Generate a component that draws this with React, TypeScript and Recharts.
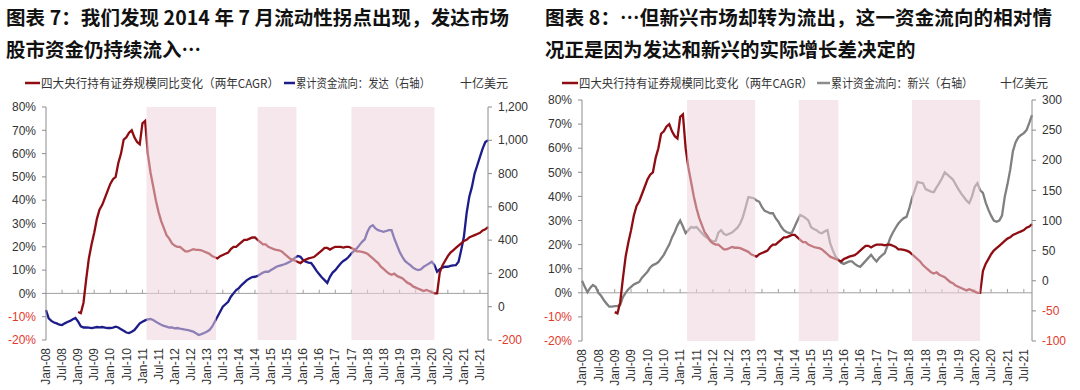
import React from 'react';
import { LineChart, Line, XAxis, YAxis, ReferenceArea, ReferenceLine } from 'recharts';

// ---------- data (monthly, Jan-08 .. Oct-21) ----------
const monthLabels = [
  'Jan-08', 'Jul-08', 'Jan-09', 'Jul-09', 'Jan-10', 'Jul-10', 'Jan-11', 'Jul-11',
  'Jan-12', 'Jul-12', 'Jan-13', 'Jul-13', 'Jan-14', 'Jul-14', 'Jan-15', 'Jul-15',
  'Jan-16', 'Jul-16', 'Jan-17', 'Jul-17', 'Jan-18', 'Jul-18', 'Jan-19', 'Jul-19',
  'Jan-20', 'Jul-20', 'Jan-21', 'Jul-21',
];

// 四大央行持有证券规模同比变化（两年CAGR）, %
const cagrPct: (number | null)[] = [
  null, null, null, null, null, null, null, null, null, null, null, null,
  -8, -8.5, -4, 6, 15, 21, 26, 32, 36, 38,
  41, 44, 47, 49, 50, 56, 60, 66, 67, 69,
  70, 67, 65, 64, 73, 74, 60, 52, 46, 40,
  35, 31, 28, 25, 23.5, 21.5, 20.5, 20, 20, 19,
  18, 18, 18.5, 19, 18.7, 18.7, 18.5, 18, 17.5, 17,
  16, 15.5, 15, 16, 16.5, 17, 17.5, 19, 20, 20,
  21, 22, 23, 23, 23.5, 24, 24, 23, 22, 21,
  21, 20, 19.5, 19, 18.7, 18.5, 18, 17, 16, 15,
  14.5, 14, 13.5, 13, 14, 14.5, 15, 15.3, 15.6, 16.5,
  17.5, 18.5, 19.5, 19.5, 18.8, 19.5, 20, 20, 20, 19.7,
  20, 20, 19.5, 19, 18, 18, 17.8, 17.5, 17, 16,
  15, 14, 13, 11.5, 10.5, 9.5, 8.5, 8, 8.5, 7.5,
  7, 6.5, 5.5, 4.5, 4, 3, 2.5, 2, 1.5, 1,
  1.5, 1, 0.5, 0, 0, 9, 12, 14, 16, 17.5,
  18.5, 19.5, 20.5, 21.5, 22.5, 23, 24, 24.5, 25, 25.5,
  26, 27, 27.5, 28.5,
];

// 累计资金流向：发达（右轴）, 十亿美元
const dmFlow: number[] = [
  -20, -70, -85, -95, -100, -108, -110, -100, -92, -85,
  -75, -68, -90, -118, -125, -124, -126, -128, -125, -122,
  -124, -122, -125, -128, -128, -125, -120, -125, -135, -145,
  -155, -158, -150, -140, -120, -100, -90, -82, -76, -74,
  -80, -90, -100, -108, -115, -120, -125, -125, -130, -128,
  -132, -135, -138, -140, -145, -150, -160, -170, -165, -158,
  -150, -140, -120, -90, -60, -30, 0, 15, 30, 60,
  80, 100, 112, 130, 145, 160, 170, 178, 180, 185,
  195, 205, 210, 210, 220, 230, 240, 245, 250, 255,
  262, 270, 280, 295, 305, 300, 280, 270, 265, 262,
  240, 215, 195, 175, 160, 143, 180, 205, 220, 240,
  260, 275, 285, 300, 320, 335, 350, 370, 390, 405,
  450, 480, 490, 470, 460, 455, 450, 455, 460, 460,
  410, 370, 330, 300, 275, 262, 250, 235, 225, 220,
  225, 240, 250, 260, 270, 250, 210, 225, 235, 240,
  240, 245, 248, 250, 270, 340, 420, 560, 660, 720,
  800, 850, 900, 950, 990, 1000,
];

// 累计资金流向：新兴（右轴）, 十亿美元
const emFlow: number[] = [
  0, -10, -19, -12, -7, -10, -20, -25, -32, -38,
  -43, -43, -42, -42, -40, -27, -20, -14, -10, -6,
  -4, -2, 5, 10, 15, 22, 26, 28, 31, 37,
  43, 52, 60, 72, 81, 92, 100, 90, 79, 84,
  89, 88, 89, 84, 79, 74, 71, 68, 65, 66,
  80, 84, 78, 76, 78, 80, 84, 88, 95, 106,
  122, 139, 138, 137, 133, 131, 122, 116, 114, 112,
  112, 104, 98, 90, 84, 81, 79, 80, 90, 100,
  109, 107, 104, 100, 89, 86, 84, 80, 79, 82,
  84, 62, 50, 40, 35, 30, 28, 30, 32, 32,
  28, 25, 23, 28, 33, 38, 43, 37, 32, 38,
  42, 46, 58, 71, 80, 88, 95, 100, 104, 106,
  120, 137, 150, 164, 163, 162, 152, 150, 148, 147,
  155, 162, 170, 180, 176, 172, 168, 160, 152, 145,
  139, 133, 129, 140, 156, 162, 150, 146, 130, 118,
  108, 100, 98, 100, 108, 139, 160, 184, 215, 230,
  238, 242, 245, 250, 262, 275,
];

// shaded periods (month index from Jan-08)
const shadeLeft: [number, number][] = [[37.5, 63.5], [79, 93.5], [114, 145]];
const shadeRight: [number, number][] = [[38.5, 63.5], [79.5, 94], [121, 146]];

const pctTicks = [-20, -10, 0, 10, 20, 30, 40, 50, 60, 70, 80];
const dmTicks = [-200, 0, 200, 400, 600, 800, 1000, 1200];
const emTicks = [-100, -50, 0, 50, 100, 150, 200, 250, 300];

const rows = dmFlow.map((_, i) => ({ m: i, cagr: cagrPct[i], dm: dmFlow[i], em: emFlow[i] }));
const xTicks = monthLabels.map((_, i) => i * 6);

const NUM_FONT = '"Liberation Sans", Arial, sans-serif';
const CJK_FONT = '"Noto Sans CJK SC", "Microsoft YaHei", sans-serif';
const RED = '#8e0c12';
const NEG = '#e23a2e';
const TXT = '#333333';
const AXIS = '#8c8c8c';

const XTick = (props: any) => {
  const { x, y, payload } = props;
  const label = monthLabels[Math.round(payload.value / 6)];
  return (
    <text x={x} y={y} transform={`rotate(-90 ${x} ${y})`} textAnchor="end" dy="0.35em"
      fontSize={12} fill={TXT} fontFamily={NUM_FONT}>{label}</text>
  );
};

const makeYTick = (fmt: (v: number) => string, anchor: 'start' | 'end') => (props: any) => {
  const { x, y, payload } = props;
  const v = payload.value as number;
  return (
    <text x={x} y={y} dy="0.35em" textAnchor={anchor} fontSize={12}
      fill={v < 0 ? NEG : TXT} fontFamily={NUM_FONT}>{fmt(v)}</text>
  );
};

const pctFmt = (v: number) => `${v}%`;
const numFmt = (v: number) => v.toLocaleString('en-US');

type PanelProps = {
  left: number;
  top: number;
  leftW: number;
  rightW: number;
  xH: number;
  flowKey: 'dm' | 'em';
  flowColor: string;
  flowDomain: [number, number];
  flowTicks: number[];
  shades: [number, number][];
};

const Panel = (p: PanelProps) => (
  <div style={{ position: 'absolute', left: p.left, top: 0 }}>
    <LineChart width={540} height={390} data={rows}
      margin={{ top: p.top, right: 0, left: 0, bottom: 0 }}>
      <XAxis dataKey="m" type="number" domain={[0, 165]} ticks={xTicks} interval={0}
        axisLine={false} tickLine={false} tickSize={0} tickMargin={8} height={p.xH}
        tick={<XTick />} />
      <YAxis yAxisId="l" orientation="left" domain={[-20, 80]} ticks={pctTicks} interval={0}
        width={p.leftW} stroke={AXIS} tickSize={4} tickMargin={6}
        tick={makeYTick(pctFmt, 'end')} />
      <YAxis yAxisId="r" orientation="right" domain={p.flowDomain} ticks={p.flowTicks} interval={0}
        width={p.rightW} stroke={AXIS} tickSize={4} tickMargin={6}
        tick={makeYTick(numFmt, 'start')} />
      <ReferenceLine yAxisId="l" y={0} stroke="#a0a0a0" strokeWidth={1} />
      {xTicks.slice(1).map((m) => (
        <ReferenceLine key={m} yAxisId="l" segment={[{ x: m, y: 0 }, { x: m, y: 1.6 }]}
          stroke="#a0a0a0" strokeWidth={1} />
      ))}
      <Line yAxisId="r" dataKey={p.flowKey} stroke={p.flowColor} strokeWidth={2.3} dot={false}
        isAnimationActive={false} />
      <Line yAxisId="l" dataKey="cagr" stroke={RED} strokeWidth={2.3} dot={false}
        isAnimationActive={false} />
      {p.shades.map(([a, b], i) => (
        <ReferenceArea key={i} yAxisId="l" x1={a} x2={b} y1={-20} y2={80}
          fill="#edd3db" fillOpacity={0.55} stroke="none" zIndex={450} />
      ))}
    </LineChart>
  </div>
);

const Header = () => (
  <svg width={1080} height={95} style={{ position: 'absolute', left: 0, top: 0 }}>
    <g fontFamily={CJK_FONT} fontWeight={700} fontSize={19.5} fill="#111">
      <text x={6} y={25} textLength={503} lengthAdjust="spacing">图表 7：我们发现 2014 年 7 月流动性拐点出现，发达市场</text>
      <text x={6} y={57}>股市资金仍持续流入…</text>
      <text x={545} y={25} textLength={507} lengthAdjust="spacing">图表 8：…但新兴市场却转为流出，这一资金流向的相对情</text>
      <text x={545} y={57}>况正是因为发达和新兴的实际增长差决定的</text>
    </g>
    <g fontFamily={CJK_FONT} fontSize={12} fill={TXT}>
      <line x1={25} y1={83} x2={40} y2={83} stroke={RED} strokeWidth={2.5} />
      <text x={41} y={87.5} textLength={238} lengthAdjust="spacingAndGlyphs">四大央行持有证券规模同比变化（两年CAGR）</text>
      <line x1={284} y1={83} x2={295} y2={83} stroke="#1c1c8a" strokeWidth={2.5} />
      <text x={296} y={87.5} textLength={134} lengthAdjust="spacingAndGlyphs">累计资金流向：发达（右轴）</text>
      <text x={460} y={87.5}>十亿美元</text>

      <line x1={562} y1={83} x2={578} y2={83} stroke={RED} strokeWidth={2.5} />
      <text x={579} y={87.5} textLength={234} lengthAdjust="spacingAndGlyphs">四大央行持有证券规模同比变化（两年CAGR）</text>
      <line x1={817} y1={83} x2={830} y2={83} stroke="#8c8c8c" strokeWidth={2.5} />
      <text x={831} y={87.5} textLength={142} lengthAdjust="spacingAndGlyphs">累计资金流向：新兴（右轴）</text>
      <text x={1000} y={87.5}>十亿美元</text>
    </g>
  </svg>
);

export default function App() {
  return (
    <div style={{ position: 'absolute', left: 0, top: 0, width: 1080, height: 390, background: '#fff', overflow: 'hidden' }}>
      <Panel left={0} top={107} leftW={46} rightW={52} xH={50} flowKey="dm" flowColor="#1c1c8a"
        flowDomain={[-200, 1200]} flowTicks={dmTicks} shades={shadeLeft} />
      <Panel left={540} top={100} leftW={42} rightW={48} xH={49} flowKey="em" flowColor="#808080"
        flowDomain={[-100, 300]} flowTicks={emTicks} shades={shadeRight} />
      <Header />
    </div>
  );
}
